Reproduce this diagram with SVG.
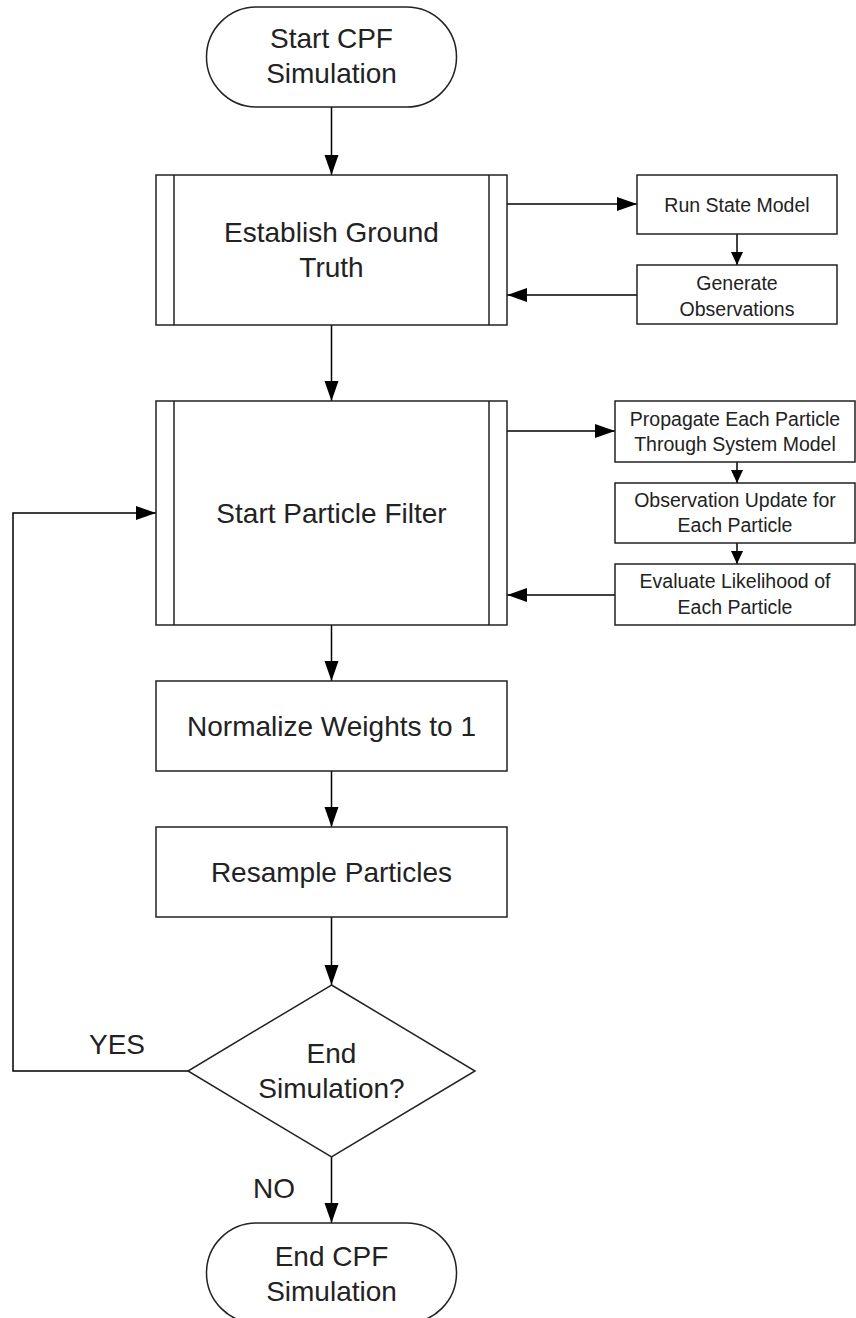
<svg xmlns="http://www.w3.org/2000/svg" width="856" height="1318" viewBox="0 0 856 1318">
<style>
.shape{fill:#fff;stroke:#222;stroke-width:1.5}
.inner{stroke:#222;stroke-width:1.5;fill:none}
.conn{fill:none;stroke:#000;stroke-width:1.5}
.big{font-family:"Liberation Sans",Arial,sans-serif;font-size:28px;fill:#222;text-anchor:middle}
.small{font-family:"Liberation Sans",Arial,sans-serif;font-size:19.5px;fill:#222;text-anchor:middle}
</style>
<defs>
<marker id="ah" markerUnits="userSpaceOnUse" markerWidth="22" markerHeight="16" refX="20" refY="7" orient="auto"><path d="M0,0 L20,7 L0,14 Z" fill="#000"/></marker>
<marker id="ahs" markerUnits="userSpaceOnUse" markerWidth="14" markerHeight="14" refX="13" refY="6" orient="auto"><path d="M0,0 L13,6 L0,12 Z" fill="#000"/></marker>
</defs>
<rect width="856" height="1318" fill="#fff"/>
<g id="connectors">
<line class="conn" x1="331.5" y1="107" x2="331.5" y2="175" marker-end="url(#ah)"/>
<line class="conn" x1="507" y1="204" x2="637" y2="204" marker-end="url(#ah)"/>
<line class="conn" x1="737" y1="234" x2="737" y2="265" marker-end="url(#ahs)"/>
<line class="conn" x1="637" y1="295" x2="507" y2="295" marker-end="url(#ah)"/>
<line class="conn" x1="331.5" y1="325" x2="331.5" y2="401" marker-end="url(#ah)"/>
<line class="conn" x1="507" y1="431" x2="615" y2="431" marker-end="url(#ah)"/>
<line class="conn" x1="737" y1="462" x2="737" y2="483" marker-end="url(#ahs)"/>
<line class="conn" x1="737" y1="543" x2="737" y2="564" marker-end="url(#ahs)"/>
<line class="conn" x1="615" y1="595" x2="507" y2="595" marker-end="url(#ah)"/>
<line class="conn" x1="331.5" y1="625" x2="331.5" y2="681" marker-end="url(#ah)"/>
<line class="conn" x1="331.5" y1="771" x2="331.5" y2="827" marker-end="url(#ah)"/>
<line class="conn" x1="331.5" y1="917" x2="331.5" y2="985" marker-end="url(#ah)"/>
<polyline class="conn" points="188,1071 13,1071 13,513 156,513" marker-end="url(#ah)"/>
<line class="conn" x1="331.5" y1="1157" x2="331.5" y2="1223" marker-end="url(#ah)"/>
<text class="big" x="117" y="1054">YES</text>
<text class="big" x="274" y="1198">NO</text>
</g>
<g id="start">
<rect class="shape" x="206.5" y="7" width="250" height="100" rx="50" ry="50"/>
<text class="big" x="331.5" y="48">Start CPF</text>
<text class="big" x="331.5" y="83">Simulation</text>
</g>
<g id="ground-truth">
<rect class="shape" x="156" y="175" width="351" height="150"/>
<line class="inner" x1="174" y1="175" x2="174" y2="325"/>
<line class="inner" x1="489" y1="175" x2="489" y2="325"/>
<text class="big" x="331.5" y="242">Establish Ground</text>
<text class="big" x="331.5" y="277">Truth</text>
</g>
<g id="run-state">
<rect class="shape" x="637" y="175" width="200" height="59"/>
<text class="small" x="737" y="212">Run State Model</text>
</g>
<g id="gen-obs">
<rect class="shape" x="637" y="265" width="200" height="59"/>
<text class="small" x="737" y="290">Generate</text>
<text class="small" x="737" y="316">Observations</text>
</g>
<g id="particle-filter">
<rect class="shape" x="156" y="401" width="351" height="224"/>
<line class="inner" x1="174" y1="401" x2="174" y2="625"/>
<line class="inner" x1="489" y1="401" x2="489" y2="625"/>
<text class="big" x="331.5" y="523">Start Particle Filter</text>
</g>
<g id="propagate">
<rect class="shape" x="615" y="401" width="240" height="61"/>
<text class="small" x="735" y="426">Propagate Each Particle</text>
<text class="small" x="735" y="451">Through System Model</text>
</g>
<g id="obs-update">
<rect class="shape" x="615" y="483" width="240" height="60"/>
<text class="small" x="735" y="507">Observation Update for</text>
<text class="small" x="735" y="532">Each Particle</text>
</g>
<g id="likelihood">
<rect class="shape" x="615" y="564" width="240" height="61"/>
<text class="small" x="735" y="588">Evaluate Likelihood of</text>
<text class="small" x="735" y="614">Each Particle</text>
</g>
<g id="normalize">
<rect class="shape" x="156" y="681" width="351" height="90"/>
<text class="big" x="331.5" y="736">Normalize Weights to 1</text>
</g>
<g id="resample">
<rect class="shape" x="156" y="827" width="351" height="90"/>
<text class="big" x="331.5" y="882">Resample Particles</text>
</g>
<g id="decision">
<polygon class="shape" points="331.5,985 475,1071 331.5,1157 188,1071"/>
<text class="big" x="331.5" y="1063">End</text>
<text class="big" x="331.5" y="1098">Simulation?</text>
</g>
<g id="end">
<rect class="shape" x="206.5" y="1223" width="250" height="100" rx="50" ry="50"/>
<text class="big" x="331.5" y="1266">End CPF</text>
<text class="big" x="331.5" y="1301">Simulation</text>
</g>
</svg>
